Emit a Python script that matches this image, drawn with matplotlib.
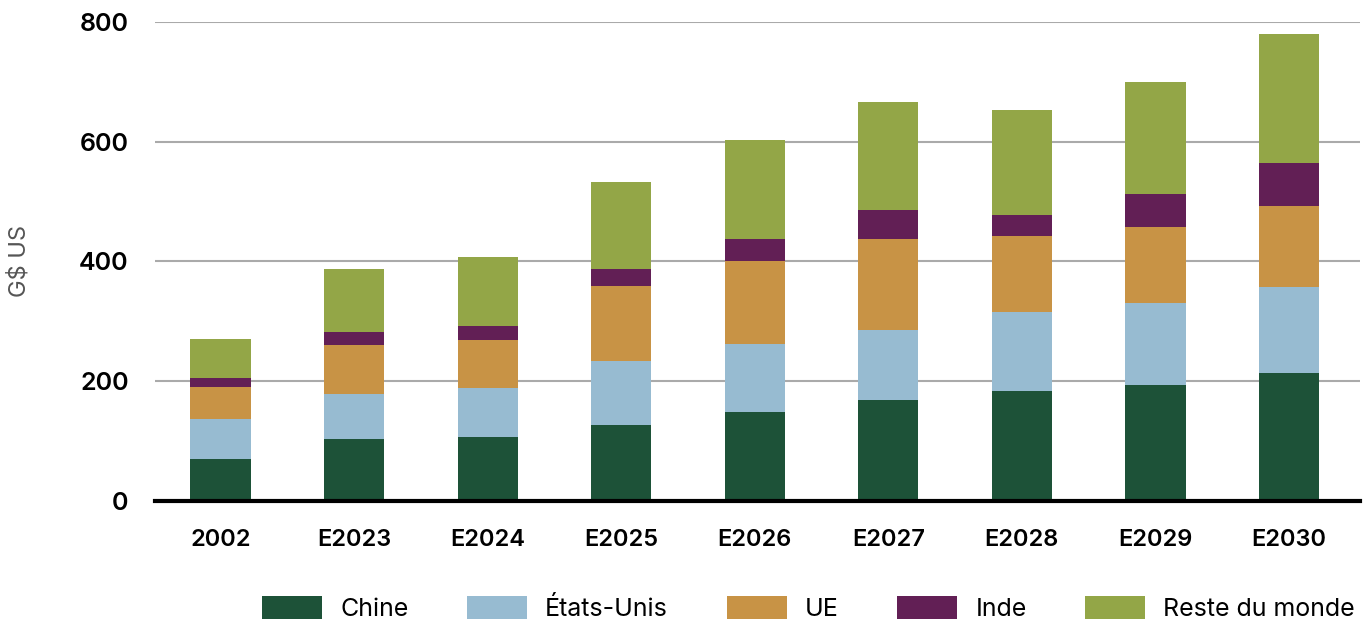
import numpy as np
import matplotlib.pyplot as plt

years = ['2002', 'E2023', 'E2024', 'E2025', 'E2026', 'E2027', 'E2028', 'E2029', 'E2030']
chine = [70, 103, 107, 127, 148, 169, 184, 194, 214]
etats_unis = [67, 76, 82, 107, 114, 117, 132, 137, 144]
ue = [53, 82, 80, 125, 139, 152, 127, 126, 134]
inde = [15, 21, 23, 29, 37, 47, 35, 55, 72]
reste = [66, 106, 116, 145, 164, 181, 174, 188, 215]

series = [
    ('Chine', chine, '#1d5238'),
    ('États-Unis', etats_unis, '#97bbd1'),
    ('UE', ue, '#c89345'),
    ('Inde', inde, '#621f55'),
    ('Reste du monde', reste, '#93a647'),
]

plt.rcParams['font.family'] = ['Inter', 'DejaVu Sans']

fig = plt.figure(figsize=(13.66, 6.23), dpi=100)
ax = fig.add_axes([0.1135, 0.196, 0.882, 0.769])

x = np.arange(len(years))
bottom = np.zeros(len(years))
for name, vals, color in series:
    ax.bar(x, vals, bottom=bottom, width=0.45, color=color, label=name, zorder=3)
    bottom += np.array(vals)

ax.set_ylim(0, 800)
ax.set_xlim(-0.49, 8.53)
ax.set_yticks([0, 200, 400, 600, 800])
ax.set_xticks(x)
ax.set_xticklabels(years)
ax.yaxis.grid(True, color='#aaaaaa', linewidth=1.5, zorder=0)
for s in ['top', 'right', 'left']:
    ax.spines[s].set_visible(False)
ax.spines['bottom'].set_color('black')
ax.spines['bottom'].set_linewidth(3)
ax.spines['bottom'].set_zorder(4)
ax.tick_params(axis='y', length=0, pad=19, labelsize=18)
ax.tick_params(axis='x', length=0, pad=20, labelsize=17)
for lbl in ax.get_yticklabels() + ax.get_xticklabels():
    lbl.set_fontweight('semibold')
ax.set_ylabel('G$ US', fontsize=17, color='#555555')
ax.yaxis.set_label_coords(-0.1035, 0.5)

fig.legend(loc='center', bbox_to_anchor=(0.592, 0.023), ncol=5, frameon=False,
           fontsize=18, handlelength=2.4, handleheight=1.0, handletextpad=0.72,
           columnspacing=2.35)

fig.savefig('out.png', dpi=100)
